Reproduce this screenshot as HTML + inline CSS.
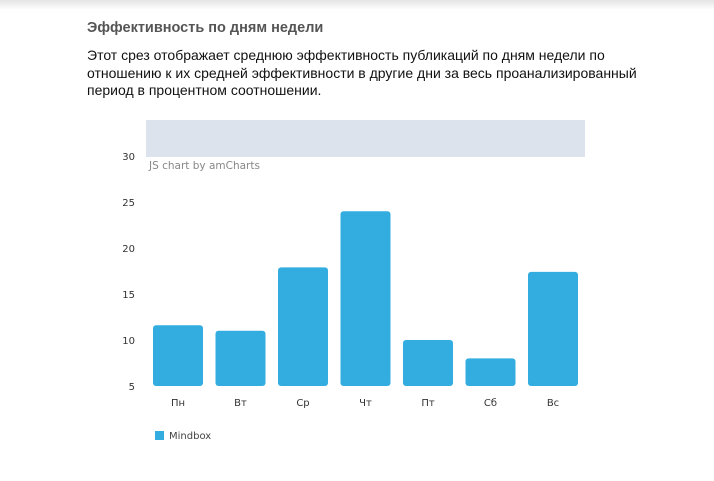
<!DOCTYPE html>
<html><head><meta charset="utf-8"><style>
body{margin:0;width:714px;height:481px;background:#fff;font-family:"Liberation Sans",sans-serif;position:relative;overflow:hidden}
.sh{position:absolute;left:0;top:0;width:714px;height:10px;background:linear-gradient(#e4e4e4,#fff)}
h1{position:absolute;left:87px;top:20px;margin:0;font-size:14.5px;font-weight:bold;color:#555}
p{position:absolute;left:87px;top:47px;margin:0;font-size:14px;line-height:17.5px;color:#111;width:560px}
svg{position:absolute;left:0;top:0}
</style></head><body>
<div class="sh"></div>
<h1>Эффективность по дням недели</h1>
<p>Этот срез отображает среднюю эффективность публикаций по дням недели по отношению к их средней эффективности в другие дни за весь проанализированный период в процентном соотношении.</p>
<svg width="714" height="481">
<rect x="146" y="120" width="439" height="37" fill="#dce3ec"/>
<text x="149" y="169" font-size="10.5" fill="#888" font-family="DejaVu Sans,sans-serif">JS chart by amCharts</text>
<g id="yax"></g><g id="bars"></g><g id="xax"></g>
<rect x="155" y="431" width="9" height="9" fill="#33ade0"/>
<text x="169" y="439" font-size="10" fill="#444" font-family="DejaVu Sans,sans-serif">Mindbox</text>
</svg>
<script>
const categories=["Пн","Вт","Ср","Чт","Пт","Сб","Вс"];
const values=[11.6,11.0,17.9,24.0,10.0,8.0,17.4];
const yTicks=[5,10,15,20,25,30];
const ns="http://www.w3.org/2000/svg";
const y=v=>386-(v-5)*9.2;
const x=i=>178+i*62.5;
const yax=document.getElementById('yax'),bars=document.getElementById('bars'),xax=document.getElementById('xax');
yTicks.forEach(t=>{const e=document.createElementNS(ns,'text');


e.setAttribute('x',135);e.setAttribute('y',y(t)+4);e.setAttribute('text-anchor','end');e.setAttribute('font-size','10');e.setAttribute('fill','#333');e.setAttribute('font-family','DejaVu Sans,sans-serif');e.textContent=t;yax.appendChild(e);});
values.forEach((v,i)=>{const r=document.createElementNS(ns,'rect');


r.setAttribute('x',x(i)-25);r.setAttribute('y',y(v));r.setAttribute('width',50);r.setAttribute('height',386-y(v));r.setAttribute('rx',3);r.setAttribute('fill','#33ade0');bars.appendChild(r);
const t=document.createElementNS(ns,'text');


t.setAttribute('x',x(i));t.setAttribute('y',406);t.setAttribute('text-anchor','middle');t.setAttribute('font-size','10');t.setAttribute('fill','#333');t.setAttribute('font-family','DejaVu Sans,sans-serif');t.textContent=categories[i];xax.appendChild(t);});
</script>
</body></html>
